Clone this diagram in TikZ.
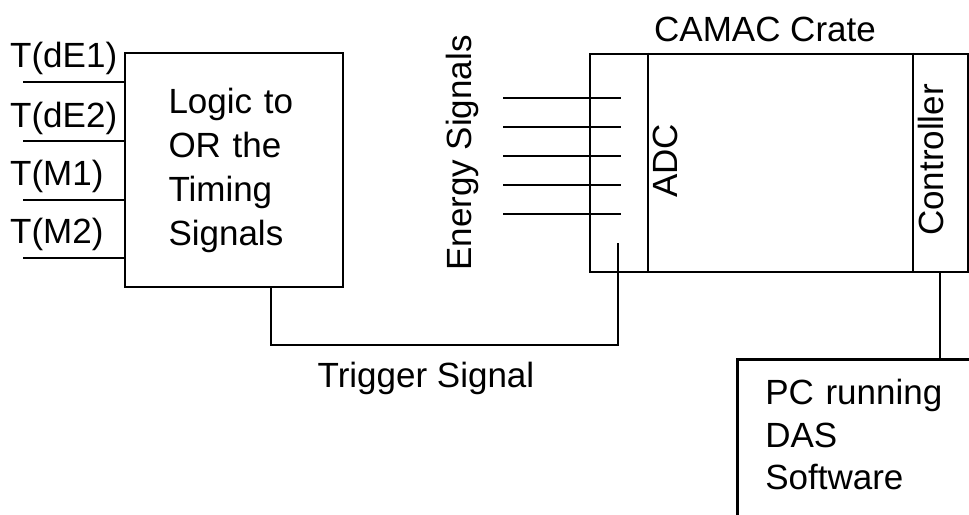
\documentclass[tikz,border=0pt]{standalone}
\usepackage{fontspec}
\setmainfont{Liberation Sans}
\usetikzlibrary{positioning}

\begin{document}
\begin{tikzpicture}[
    x=1pt, y=-1pt,
    txt/.style={font=\fontsize{35}{44}\selectfont, inner sep=0pt},
    box/.style={rectangle, draw, line width=2.6pt, font=\fontsize{35}{44}\selectfont, align=left},
    wire/.style={line width=2.6pt}
]
\useasboundingbox (0,0) rectangle (969,514);
\clip (0,0) rectangle (969,514);
% logic box with the four timing inputs
\node[box, minimum width=218pt, minimum height=234pt, text width=131pt] (logic) at (234,170) {Logic to\\OR the\\Timing\\Signals};
\coordinate (in1) at (23,82);
\coordinate (in2) at (23,141);
\coordinate (in3) at (23,200);
\coordinate (in4) at (23,258);
\draw[wire] (in1) -- (in1 -| logic.west);
\draw[wire] (in2) -- (in2 -| logic.west);
\draw[wire] (in3) -- (in3 -| logic.west);
\draw[wire] (in4) -- (in4 -| logic.west);
\node[txt, anchor=base west] (tde1) at (10,67) {T(dE1)};
\node[txt, anchor=base west] (tde2) at (10,127) {T(dE2)};
\node[txt, anchor=base west] (tm1) at (10,185) {T(M1)};
\node[txt, anchor=base west] (tm2) at (10,243) {T(M2)};
% crate
\node[box, minimum width=378pt, minimum height=218pt] (crate) at (779,163) {};
\node[txt, anchor=base] (cratetitle) at (765,41) {CAMAC Crate};
\coordinate (adcx) at (648,0);
\coordinate (ctrlx) at (913,0);
\draw[wire] (crate.north -| adcx) -- (crate.south -| adcx);
\draw[wire] (crate.north -| ctrlx) -- (crate.south -| ctrlx);
\node[txt, rotate=90] (adc) at (665,161) {ADC};
\node[txt, rotate=90] (ctrl) at (931,160) {Controller};
% energy signals
\node[txt, rotate=90] (esig) at (462,153) {Energy Signals};
\coordinate (eend) at (621,0);
\coordinate (e1) at (503,98);
\coordinate (e2) at (503,127);
\coordinate (e3) at (503,156);
\coordinate (e4) at (503,185);
\coordinate (e5) at (503,214);
\draw[wire] (e1) -- (e1 -| eend);
\draw[wire] (e2) -- (e2 -| eend);
\draw[wire] (e3) -- (e3 -| eend);
\draw[wire] (e4) -- (e4 -| eend);
\draw[wire] (e5) -- (e5 -| eend);
% trigger
\coordinate (trigin) at (618,243);
\coordinate (trigbot) at (0,345);
\draw[wire] ([xshift=37pt]logic.south) |- (trigin |- trigbot) -- (trigin);
\node[txt, anchor=base] (triglbl) at (426,387) {Trigger Signal};
% pc
\node[box, anchor=north west, text width=250pt, inner xsep=28pt, inner ysep=20pt, text depth=140pt, font=\fontsize{35}{42.5}\selectfont] (pc) at (736,358) {PC running\\DAS\\Software};
\coordinate (pcx) at (940,0);
\draw[wire] (crate.south -| pcx) -- (pc.north -| pcx);
\end{tikzpicture}
\end{document}
